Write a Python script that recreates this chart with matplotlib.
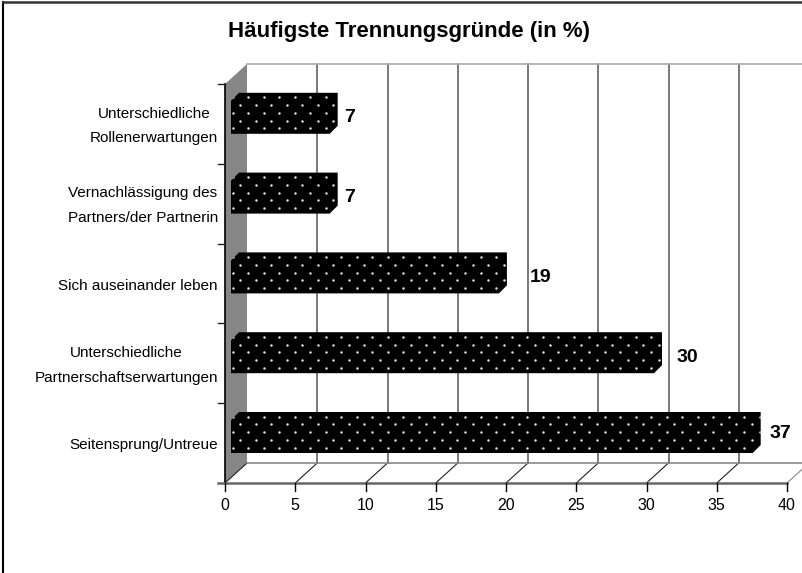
import numpy as np
import matplotlib
matplotlib.use("Agg")
import matplotlib.pyplot as plt

plt.rcParams['font.family'] = ['Liberation Sans', 'DejaVu Sans']

# Daten (von unten nach oben)
kategorien = [
    "Seitensprung/Untreue",
    "Unterschiedliche\nPartnerschaftserwartungen",
    "Sich auseinander leben",
    "Vernachlässigung des\nPartners/der Partnerin",
    "Unterschiedliche\nRollenerwartungen",
]
werte = [37, 30, 19, 7, 7]
x_ticks = [0, 5, 10, 15, 20, 25, 30, 35, 40]
titel = "Häufigste Trennungsgründe (in %)"

# Abstand der Wertbeschriftung vom Balken (Pixel)
label_dx = [9, 15, 23, 6, 6]
label_dy = [50, 46, 46, 46, 46]

W, H = 802, 573
fig = plt.figure(figsize=(W / 100, H / 100), dpi=100, facecolor="white")

# Rahmen der Grafik
fig.add_artist(plt.Line2D([3 / W, 3 / W], [0, 1 - 1.5 / H], color="black", lw=1.5))
fig.add_artist(plt.Line2D([3 / W, 1], [1 - 1.5 / H, 1 - 1.5 / H], color="#333333", lw=1.8))

# Achse: 0-40 zwischen x=225 und x=787 Pixel
ax = fig.add_axes([225 / W, (H - 483) / H, 562 / W, 399 / H])
ax.set_xlim(0, 40)
ax.set_ylim(0, 5)
ax.axis("off")

# 3D-Versatz in Achseneinheiten
px = 40 / 562
py = 5 / 399
tiefe_x, tiefe_y = 22 * px, 20 * py

# Seitenwand
ax.fill([0, tiefe_x, tiefe_x, 0], [0, tiefe_y, 5 + tiefe_y, 5], color="#868686", lw=0, clip_on=False, zorder=1)

# Gitterlinien hinten und Boden
x_rechts = (802 - 225) * px
for t in x_ticks:
    if t > 0 and t < 40:
        ax.plot([t + tiefe_x] * 2, [tiefe_y, 5 + tiefe_y], color="#555555", lw=1.1, clip_on=False, zorder=1)
    x_ende = min(t + tiefe_x, x_rechts)
    y_ende = (x_ende - t) / tiefe_x * tiefe_y
    ax.plot([t, x_ende], [0, y_ende], color="#222222" if t < 40 else "#888888", lw=0.8, clip_on=False, zorder=1)
ax.plot([tiefe_x, x_rechts], [tiefe_y, tiefe_y], color="#888888", lw=1.2, clip_on=False, zorder=1)
ax.plot([tiefe_x, x_rechts], [5 + tiefe_y, 5 + tiefe_y], color="#aaaaaa", lw=1.2, clip_on=False, zorder=1)

# Achsenlinien und Ticks
ax.plot([0, 0], [0, 5], color="black", lw=1.2, clip_on=False, zorder=2)
ax.plot([-7 * px, 40], [0, 0], color="#666666", lw=1.8, clip_on=False, zorder=2)
for i in range(1, 6):
    ax.plot([-7 * px, 0], [i, i], color="#222222", lw=1, clip_on=False, zorder=2)
for t in x_ticks:
    ax.plot([t, t], [0, -8 * py], color="black", lw=1, clip_on=False, zorder=2)
    ax.text(t, -22 * py, str(t), ha="center", va="center", fontsize=11.5)

# Balken
start = 6 * px
dx, dy = 8 * px, 8 * py
unten, oben = 30 * py, 63 * py
for i, (kat, wert) in enumerate(zip(kategorien, werte)):
    x0 = start
    x1 = start + wert * 14.1 * px
    y0, y1 = i + unten, i + oben
    rand = [x0, x0 + dx, x1 + dx, x1 + dx, x1, x0]
    hoehe = [y1, y1 + dy, y1 + dy, y0 + dy, y0, y0]
    balken = ax.fill(rand, hoehe, color="black", lw=0, clip_on=False, zorder=3)[0]

    # Punktmuster
    zeilen = y1 + dy - (4.5 + 7.8 * np.arange(6)) * py
    for z, y in enumerate(zeilen):
        xs = np.arange(x0 + (9 if z % 2 else 1.5) * px, x1 + dx, 15.5 * px)
        punkte = ax.scatter(xs, [y] * len(xs), s=3.2, color="#e0e0e0", lw=0, clip_on=True, zorder=4)
        punkte.set_clip_path(balken)

    ax.text(x1 + dx + label_dx[i] * px, i + label_dy[i] * py, str(wert), ha="left", va="center",
            fontsize=14, fontweight="bold")
    ax.text(-7 * px, i + 0.5 - 2 * py, kat, ha="right", va="center",
            multialignment="center", fontsize=11, linespacing=1.95)

fig.text(409 / W, 1 - 32 / H, titel, ha="center", va="center", fontsize=16, fontweight="bold")

fig.savefig("out.png", dpi=100)
